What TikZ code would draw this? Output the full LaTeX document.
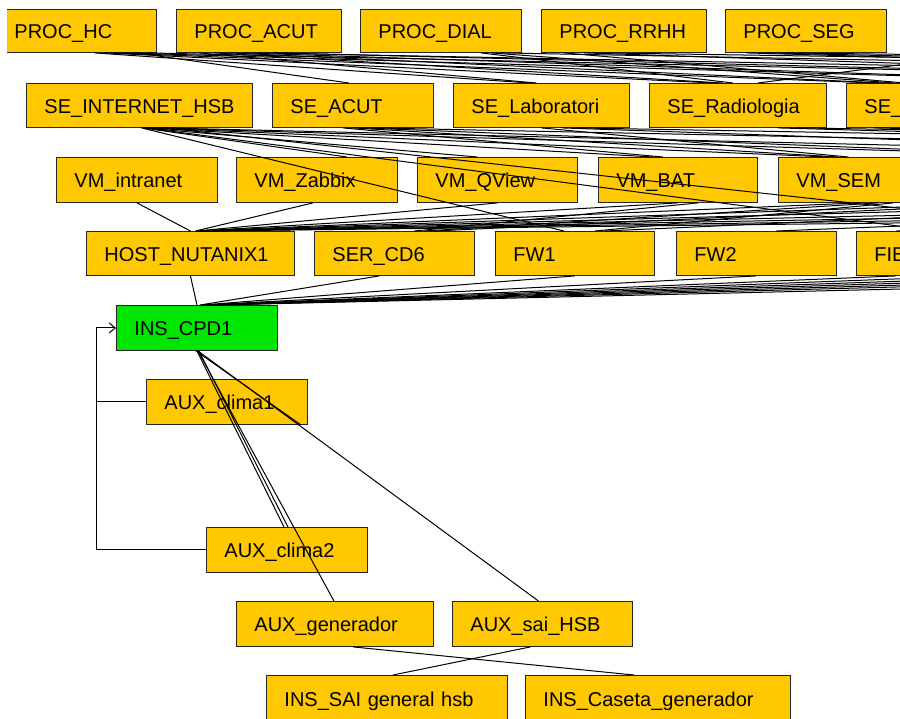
\documentclass[tikz,border=0pt]{standalone}
\usepackage{fontspec}
\setmainfont{Liberation Sans}
\usetikzlibrary{arrows.meta}
\definecolor{boxyellow}{RGB}{255,200,0}
\definecolor{boxgreen}{RGB}{0,230,0}
\tikzset{
  box/.style={draw=black!85, line width=0.9pt, fill=boxyellow, anchor=north west,
    inner xsep=18pt, inner ysep=0pt, align=left,
    font=\fontsize{20}{24}\selectfont, text height=16pt, text depth=0pt},
  root/.style={fill=boxgreen},
  wire/.style={draw=black, line width=1pt},
  barb/.style={-{Straight Barb[length=6pt,width=10pt]}},
}
% box node: [extra style]{name}{x1}{y1}{x2}{y2}{label}
\newcommand\boxnode[7][]{%
  \pgfmathsetmacro\bw{#5-#3}\pgfmathsetmacro\bh{#6-#4}\pgfmathsetmacro\tw{#5-#3-36}%
  \node[box,#1,minimum width=\bw pt,minimum height=\bh pt,text width=\tw pt] (#2) at (#3,#4) {#7};}
% edges between layers: node to node, node to coordinate, coordinate to node
\newcommand\wire[4]{\draw[wire] ([xshift=#2pt]#1.south) -- ([xshift=#4pt]#3.north);}
\newcommand\wireto[3]{\draw[wire] ([xshift=#2pt]#1.south) -- (#3);}
\newcommand\wirefrom[3]{\draw[wire] (#1) -- ([xshift=#3pt]#2.north);}
\begin{document}
\begin{tikzpicture}[x=1pt,y=-1pt]
\useasboundingbox (0,0) rectangle (900,718);
\clip (7,0) rectangle (900,718);

% layer 1: processes
\boxnode{phc}{-4}{9}{156}{52}{PROC\_HC}
\boxnode{pacut}{176}{9}{341}{52}{PROC\_ACUT}
\boxnode{pdial}{360}{9}{521}{52}{PROC\_DIAL}
\boxnode{prrhh}{541}{9}{706}{52}{PROC\_RRHH}
\boxnode{pseg}{725}{9}{886}{52}{PROC\_SEG}
% layer 2: services
\boxnode{seinet}{26}{83}{252}{127}{SE\_INTERNET\_HSB}
\boxnode{seacut}{272}{83}{433}{127}{SE\_ACUT}
\boxnode{selab}{453}{83}{629}{127}{SE\_Laboratori}
\boxnode{serad}{649}{83}{826}{127}{SE\_Radiologia}
\boxnode{sex}{846}{83}{1022}{127}{SE\_}
% layer 3: virtual machines
\boxnode{vmint}{56}{157}{217}{202}{VM\_intranet}
\boxnode{vmzab}{236}{157}{397}{202}{VM\_Zabbix}
\boxnode{vmqv}{417}{157}{577}{202}{VM\_QView}
\boxnode{vmbat}{598}{157}{757}{202}{VM\_BAT}
\boxnode{vmsem}{778}{157}{938}{202}{VM\_SEM}
% layer 4: hosts and network
\boxnode{host}{86}{231}{294}{275}{HOST\_NUTANIX1}
\boxnode{sercd}{314}{231}{474}{275}{SER\_CD6}
\boxnode{fwa}{495}{231}{654}{275}{FW1}
\boxnode{fwb}{676}{231}{836}{275}{FW2}
\boxnode{fib}{856}{231}{1016}{275}{FIB}
% installation and auxiliaries
\boxnode[root]{cpd}{116}{305}{277}{350}{INS\_CPD1}
\boxnode{clima1}{146}{379}{307}{424}{AUX\_clima1}
\boxnode{clima2}{206}{527}{367}{572}{AUX\_clima2}
\boxnode{gen}{236}{601}{433}{646}{AUX\_generador}
\boxnode{sai}{452}{601}{632}{646}{AUX\_sai\_HSB}
\boxnode{insai}{266}{675}{507}{722}{INS\_SAI general hsb}
\boxnode{caseta}{525}{675}{790}{722}{INS\_Caseta\_generador}

% continuation of each layer past the right border
\coordinate (qa) at (1000,52);  \coordinate (qb) at (1200,52);  \coordinate (qc) at (1400,52);
\coordinate (ra) at (1150,83);  \coordinate (rb) at (1500,83);  \coordinate (rc) at (1800,83);
\coordinate (rd) at (2100,83);  \coordinate (re) at (2600,83);  \coordinate (rf) at (3200,83);
\coordinate (ta) at (1100,157); \coordinate (tb) at (1400,157); \coordinate (tc) at (1800,157);
\coordinate (td) at (2200,157); \coordinate (te) at (2600,157);
\coordinate (va) at (1050,202); \coordinate (vb) at (1250,202); \coordinate (vc) at (1500,202);
\coordinate (vd) at (1800,202); \coordinate (ve) at (2200,202); \coordinate (vf) at (2700,202);
\coordinate (ua) at (1109,231);
\coordinate (wa) at (1000,275); \coordinate (wb) at (1080,275); \coordinate (wc) at (1160,275);
\coordinate (wd) at (1250,275); \coordinate (we) at (1350,275); \coordinate (wf) at (1500,275);

% processes -> services
\wire{phc}{60}{seacut}{-4}
\wire{phc}{18}{selab}{-12}
\wire{phc}{28}{serad}{-25}
\wire{phc}{38}{sex}{-60}
\wireto{phc}{48}{ra}
\wireto{phc}{72}{rb}
\wire{pacut}{-60}{selab}{-5}
\wire{pacut}{-45}{serad}{-15}
\wire{pacut}{-30}{sex}{-50}
\wireto{pacut}{-15}{ra}
\wireto{pacut}{0}{rc}
\wireto{pacut}{15}{rb}
\wire{pdial}{40}{serad}{-5}
\wire{pdial}{50}{sex}{-40}
\wireto{pdial}{60}{rd}
\wire{prrhh}{-60}{sex}{-30}
\wireto{prrhh}{-40}{rb}
\wireto{prrhh}{-20}{re}
\wireto{pseg}{-60}{rc}
\wireto{pseg}{-40}{rd}
\wireto{pseg}{-20}{rf}
\wirefrom{qa}{serad}{20}
\wirefrom{qb}{sex}{-20}
\wirefrom{qc}{sex}{-10}

% services -> virtual machines / network
\wire{seinet}{3}{vmzab}{30}
\wire{seinet}{4}{vmqv}{-20}
\wire{seinet}{8}{vmbat}{-25}
\wire{seinet}{12}{vmsem}{-30}
\wireto{seinet}{16}{ta}
\wireto{seinet}{22}{tb}
\wire{seinet}{2}{fwa}{-11}
\wire{seinet}{6}{fib}{0}
\wireto{seinet}{25}{ua}
\wire{seacut}{-10}{vmbat}{-15}
\wire{seacut}{0}{vmsem}{-20}
\wireto{seacut}{10}{ta}
\wireto{seacut}{20}{tc}
\wire{selab}{0}{vmsem}{-10}
\wireto{selab}{20}{tb}
\wireto{selab}{35}{td}
\wireto{serad}{40}{tc}
\wireto{serad}{60}{te}
\wireto{sex}{-60}{td}

% virtual machines -> hosts
\wire{vmint}{0}{host}{0}
\wire{vmzab}{-4}{host}{5}
\wire{vmqv}{0}{host}{6}
\wire{vmbat}{0}{host}{7}
\wire{vmsem}{0}{host}{8}
\wirefrom{va}{host}{9}
\wirefrom{vb}{host}{10}
\wirefrom{vc}{host}{11}
\wirefrom{vd}{host}{12}
\wirefrom{ve}{host}{13}
\wirefrom{vf}{host}{14}
\wire{vmbat}{20}{sercd}{20}
\wire{vmsem}{20}{sercd}{30}
\wire{vmsem}{35}{fwa}{20}
\wirefrom{va}{sercd}{40}
\wirefrom{vb}{fwa}{30}
\wirefrom{vc}{fwb}{20}
\wirefrom{vd}{fib}{-40}
\wirefrom{vb}{fib}{-30}

% hosts -> installation
\wire{host}{0}{cpd}{0}
\wire{sercd}{-15}{cpd}{3}
\wire{fwa}{0}{cpd}{5}
\wire{fwb}{0}{cpd}{7}
\wire{fib}{-40}{cpd}{9}
\wirefrom{wa}{cpd}{10}
\wirefrom{wb}{cpd}{12}
\wirefrom{wc}{cpd}{14}
\wirefrom{wd}{cpd}{16}
\wirefrom{we}{cpd}{18}
\wirefrom{wf}{cpd}{20}

% installation -> auxiliaries
\draw[wire] ([xshift=-1pt]cpd.south) -- ([xshift=-7pt]clima1.south east);
\wire{cpd}{0}{clima2}{-3}
\wire{cpd}{2}{clima2}{1}
\wire{cpd}{1}{gen}{-1}
\wire{cpd}{1}{sai}{-4}
\wire{sai}{-12}{insai}{6}
\wire{gen}{18}{caseta}{-24}

% climate units feeding back into the installation
\coordinate (bus) at ([xshift=-20pt]cpd.west);
\draw[wire,barb] (clima2.west) -| (bus) -- (cpd.west);
\draw[wire] (clima1.west) -- (clima1.west -| bus);
\end{tikzpicture}
\end{document}
